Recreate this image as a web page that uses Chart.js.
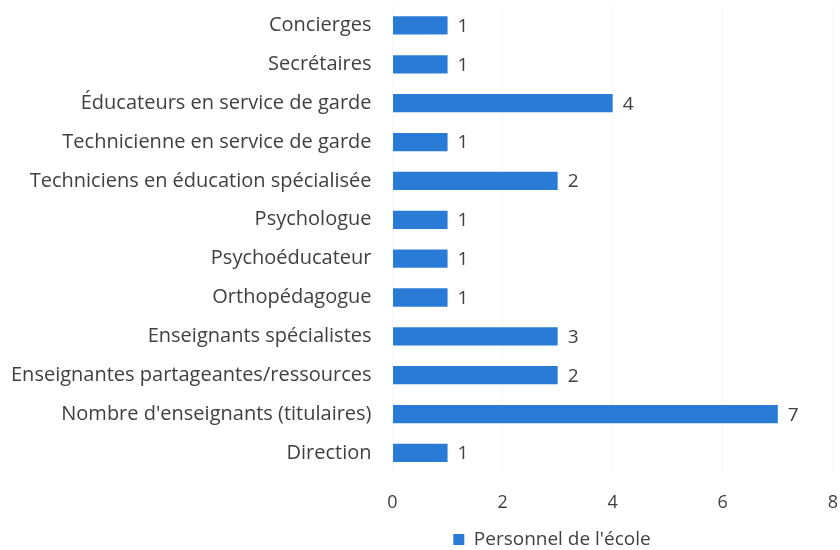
<!DOCTYPE html>
<html>
<head>
<meta charset="utf-8">
<script src="https://cdn.jsdelivr.net/npm/chart.js@4"></script>
<style>
html,body{margin:0;padding:0;background:#fff;}
#wrap{width:840px;height:550px;position:relative;}
</style>
</head>
<body>
<div id="wrap"><canvas id="c" width="840" height="550"></canvas></div>
<script>
const categories = [
  "Concierges",
  "Secrétaires",
  "Éducateurs en service de garde",
  "Technicienne en service de garde",
  "Techniciens en éducation spécialisée",
  "Psychologue",
  "Psychoéducateur",
  "Orthopédagogue",
  "Enseignants spécialistes",
  "Enseignantes partageantes/ressources",
  "Nombre d'enseignants (titulaires)",
  "Direction"
];
const seriesName = "Personnel de l'école";
const barValues = [1, 1, 4, 1, 3, 1, 1, 1, 3, 3, 7, 1];
const valueLabels = ["1", "1", "4", "1", "2", "1", "1", "1", "3", "2", "7", "1"];
const xTicks = [0, 2, 4, 6, 8];

const FONT = "'Open Sans', sans-serif";
const TEXT = "#404040";
const BAR = "#2a7bd6";

const valueLabelPlugin = {
  id: 'valueLabels',
  afterDatasetsDraw(chart) {
    const ctx = chart.ctx;
    const meta = chart.getDatasetMeta(0);
    ctx.save();
    ctx.font = "19px " + FONT;
    ctx.fillStyle = TEXT;
    ctx.textAlign = 'left';
    ctx.textBaseline = 'middle';
    meta.data.forEach((bar, i) => {
      ctx.fillText(valueLabels[i], bar.x + 10, bar.y + 1);
    });
    ctx.restore();
  }
};

const legendShift = {
  id: 'legendShift',
  afterLayout(chart) {
    const lg = chart.legend;
    if (lg) { lg.left += 127; lg.right += 127; lg.top += 9; lg.bottom += 9; }
  }
};

new Chart(document.getElementById('c'), {
  type: 'bar',
  data: {
    labels: categories,
    datasets: [{
      label: seriesName,
      data: barValues,
      backgroundColor: BAR,
      borderWidth: 0,
      barPercentage: 0.47,
      categoryPercentage: 1.0
    }]
  },
  options: {
    indexAxis: 'y',
    responsive: false,
    animation: false,
    layout: { padding: { top: 6, right: 0, left: 10, bottom: 0 } },
    scales: {
      x: {
        min: 0, max: 8,
        afterBuildTicks(scale) { scale.ticks = xTicks.map(v => ({ value: v })); },
        grid: { display: true, color: 'rgba(0,0,0,0.03)', drawTicks: true, tickLength: 18, tickColor: 'rgba(0,0,0,0)' },
        border: { display: false },
        ticks: { color: TEXT, font: { family: FONT, size: 18 }, padding: 2 }
      },
      y: {
        afterFit(scale) { scale.paddingTop = 0; scale.paddingBottom = 0; },
        grid: { display: false, drawTicks: true, tickLength: 20, tickColor: 'rgba(0,0,0,0)' },
        border: { display: false },
        ticks: { color: TEXT, font: { family: FONT, size: 20 }, padding: 1 }
      }
    },
    plugins: {
      legend: {
        position: 'bottom',
        labels: {
          color: TEXT,
          font: { family: FONT, size: 19 },
          boxWidth: 11, boxHeight: 11,
          padding: 5
        }
      },
      tooltip: { enabled: false }
    }
  },
  plugins: [valueLabelPlugin, legendShift]
});
</script>
</body>
</html>
